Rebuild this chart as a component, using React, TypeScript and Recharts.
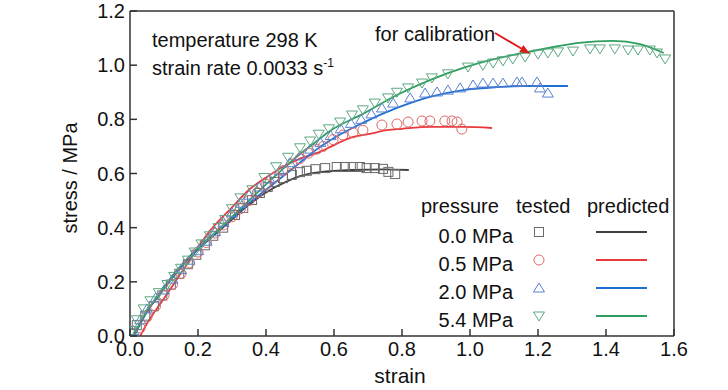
import React from 'react'
import { ComposedChart, Line, Scatter, XAxis, YAxis, ReferenceLine } from 'recharts'

// strain / stress pairs
const tested00: [number, number][] = [
  [0.0, 0.01], [0.02, 0.04], [0.045, 0.075], [0.07, 0.11], [0.095, 0.15], [0.12, 0.19],
  [0.145, 0.23], [0.17, 0.265], [0.195, 0.3], [0.22, 0.335], [0.245, 0.37], [0.274, 0.4],
  [0.309, 0.447], [0.333, 0.473], [0.359, 0.502], [0.382, 0.528], [0.405, 0.55], [0.426, 0.569],
  [0.45, 0.583], [0.476, 0.595], [0.5, 0.605], [0.52, 0.61], [0.545, 0.616], [0.574, 0.62],
  [0.608, 0.624], [0.632, 0.624], [0.655, 0.624], [0.676, 0.624], [0.696, 0.62], [0.72, 0.62],
  [0.744, 0.617], [0.76, 0.606], [0.78, 0.598],
]
const tested05: [number, number][] = [
  [0.03, 0.03], [0.05, 0.07], [0.075, 0.11], [0.1, 0.15], [0.125, 0.19], [0.15, 0.23],
  [0.175, 0.27], [0.2, 0.31], [0.225, 0.345], [0.25, 0.38], [0.275, 0.41], [0.3, 0.44],
  [0.325, 0.47], [0.35, 0.5], [0.375, 0.53], [0.4, 0.56], [0.425, 0.585], [0.45, 0.61],
  [0.475, 0.635], [0.5, 0.655], [0.525, 0.675], [0.55, 0.69], [0.568, 0.7], [0.597, 0.725],
  [0.626, 0.742], [0.656, 0.75], [0.685, 0.76], [0.741, 0.779], [0.785, 0.783], [0.818, 0.79],
  [0.859, 0.794], [0.882, 0.794], [0.926, 0.794], [0.947, 0.794], [0.962, 0.79], [0.976, 0.764],
]
const tested20: [number, number][] = [
  [0.01, 0.02], [0.03, 0.06], [0.05, 0.1], [0.075, 0.14], [0.1, 0.17], [0.125, 0.21],
  [0.15, 0.245], [0.175, 0.28], [0.2, 0.315], [0.225, 0.35], [0.25, 0.385], [0.275, 0.42],
  [0.3, 0.455], [0.325, 0.49], [0.35, 0.52], [0.38, 0.55], [0.41, 0.58], [0.44, 0.61],
  [0.47, 0.64], [0.5, 0.665], [0.53, 0.69], [0.56, 0.715], [0.59, 0.74], [0.62, 0.765],
  [0.65, 0.785], [0.68, 0.8], [0.71, 0.82], [0.741, 0.842], [0.774, 0.86], [0.824, 0.879],
  [0.868, 0.897], [0.903, 0.901], [0.935, 0.908], [0.971, 0.916], [1.009, 0.927], [1.038, 0.934],
  [1.068, 0.934], [1.097, 0.934], [1.138, 0.938], [1.153, 0.938], [1.197, 0.938], [1.206, 0.916],
  [1.229, 0.897],
]
const tested54: [number, number][] = [
  [0.005, 0.02], [0.02, 0.06], [0.04, 0.1], [0.06, 0.13], [0.085, 0.16], [0.11, 0.19],
  [0.13, 0.22], [0.15, 0.25], [0.17, 0.28], [0.19, 0.31], [0.21, 0.34], [0.235, 0.37],
  [0.26, 0.4], [0.28, 0.43], [0.3, 0.47], [0.325, 0.51], [0.36, 0.54], [0.395, 0.585],
  [0.43, 0.625], [0.465, 0.66], [0.5, 0.695], [0.53, 0.72], [0.555, 0.745], [0.585, 0.765],
  [0.618, 0.79], [0.653, 0.816], [0.685, 0.835], [0.72, 0.86], [0.759, 0.879], [0.785, 0.9],
  [0.818, 0.916], [0.859, 0.934], [0.888, 0.953], [0.935, 0.968], [0.994, 0.993], [1.038, 1.0],
  [1.068, 1.008], [1.097, 1.016], [1.126, 1.023], [1.162, 1.03], [1.2, 1.041], [1.229, 1.045],
  [1.259, 1.049], [1.303, 1.052], [1.353, 1.06], [1.382, 1.06], [1.426, 1.06], [1.465, 1.056],
  [1.494, 1.056], [1.529, 1.056], [1.55, 1.045], [1.574, 1.023],
]

const predicted00: [number, number][] = [
  [0.01, 0], [0.05, 0.09], [0.1, 0.175], [0.15, 0.255], [0.2, 0.32], [0.25, 0.375],
  [0.3, 0.43], [0.35, 0.485], [0.4, 0.53], [0.46, 0.57], [0.5, 0.59], [0.559, 0.605],
  [0.656, 0.613], [0.75, 0.615], [0.82, 0.613],
]
const predicted05: [number, number][] = [
  [0.03, 0], [0.044, 0.033], [0.103, 0.144], [0.162, 0.255], [0.23, 0.38], [0.3, 0.475],
  [0.35, 0.54], [0.4, 0.585], [0.45, 0.625], [0.5, 0.655], [0.559, 0.68], [0.6, 0.705],
  [0.656, 0.735], [0.7, 0.745], [0.756, 0.76], [0.8, 0.765], [0.882, 0.772], [0.98, 0.772],
  [1.065, 0.768],
]
const predicted20: [number, number][] = [
  [0.012, 0], [0.05, 0.09], [0.1, 0.178], [0.15, 0.255], [0.2, 0.32], [0.25, 0.378],
  [0.3, 0.435], [0.35, 0.49], [0.4, 0.54], [0.45, 0.59], [0.5, 0.64], [0.55, 0.69],
  [0.588, 0.722], [0.685, 0.787], [0.785, 0.842], [0.882, 0.883], [0.98, 0.908], [1.08, 0.919],
  [1.156, 0.923], [1.288, 0.923],
]
const predicted54: [number, number][] = [
  [0.01, 0], [0.05, 0.092], [0.1, 0.18], [0.15, 0.26], [0.2, 0.325], [0.25, 0.382],
  [0.3, 0.44], [0.35, 0.5], [0.4, 0.56], [0.45, 0.617], [0.5, 0.672], [0.55, 0.72],
  [0.588, 0.757], [0.685, 0.82], [0.785, 0.89], [0.882, 0.945], [0.98, 0.99], [1.08, 1.025],
  [1.156, 1.045], [1.25, 1.068], [1.32, 1.082], [1.42, 1.09], [1.5, 1.078], [1.57, 1.045],
]

const pressures = ['0.0 MPa', '0.5 MPa', '2.0 MPa', '5.4 MPa']
const xTicks = [0, 0.2, 0.4, 0.6, 0.8, 1.0, 1.2, 1.4, 1.6]
const yTicks = [0, 0.2, 0.4, 0.6, 0.8, 1.0, 1.2]

const lineColors = ['#404040', '#e8393c', '#1f6ed4', '#2f9e60']
const markColors = ['#6a6a6a', '#e06868', '#5a82d0', '#5ea882']
const FONT = "'Liberation Sans', Arial, sans-serif"

const toPts = (a: [number, number][]) => a.map(([x, y]) => ({ x, y }))

const Marker = ({ kind, cx, cy, color }: { kind: number; cx: number; cy: number; color: string }) => {
  const p = { fill: 'none', stroke: color, strokeWidth: 1 }
  if (kind === 0) return <rect x={cx - 4.5} y={cy - 4.5} width={9} height={9} {...p} />
  if (kind === 1) return <circle cx={cx} cy={cy} r={5} {...p} />
  if (kind === 2) return <path d={`M${cx},${cy - 5} L${cx + 5.5},${cy + 4} L${cx - 5.5},${cy + 4} Z`} {...p} />
  return <path d={`M${cx},${cy + 5} L${cx + 5.5},${cy - 4} L${cx - 5.5},${cy - 4} Z`} {...p} />
}

const XTick = (props: any) => {
  const { x, y, payload } = props
  return (
    <g>
      <line x1={x} x2={x} y1={y} y2={y - 7} stroke="#333" strokeWidth={1.5} />
      <text x={x} y={y + 20} textAnchor="middle" fontFamily={FONT} fontSize={20} fill="#111">
        {payload.value.toFixed(1)}
      </text>
    </g>
  )
}

const YTick = (props: any) => {
  const { x, y, payload } = props
  return (
    <g>
      <line x1={x} x2={x + 7} y1={y} y2={y} stroke="#333" strokeWidth={1.5} />
      <text x={x - 5} y={y + 7} textAnchor="end" fontFamily={FONT} fontSize={20} fill="#111">
        {payload.value.toFixed(1)}
      </text>
    </g>
  )
}

const tested = [tested00, tested05, tested20, tested54]
const predicted = [predicted00, predicted05, predicted20, predicted54]

export default function App() {
  const txt = { fontFamily: FONT, fontSize: 20, fill: '#111' }
  return (
    <div style={{ position: 'absolute', left: 0, top: 0, width: 728, height: 390, background: '#fff' }}>
      <ComposedChart width={728} height={390} margin={{ top: 11, right: 54, bottom: 0, left: 0 }}>
        <XAxis
          type="number"
          dataKey="x"
          domain={[0, 1.6]}
          ticks={xTicks}
          interval={0}
          height={54}
          tickSize={0}
          tickMargin={0}
          tickLine={false}
          axisLine={{ stroke: '#333', strokeWidth: 1.5 }}
          tick={<XTick />}
          allowDataOverflow
        />
        <YAxis
          type="number"
          dataKey="y"
          domain={[0, 1.2]}
          ticks={yTicks}
          interval={0}
          width={130}
          tickSize={0}
          tickMargin={0}
          tickLine={false}
          axisLine={{ stroke: '#333', strokeWidth: 1.5 }}
          tick={<YTick />}
          allowDataOverflow
        />
        <ReferenceLine y={1.2} stroke="#333" strokeWidth={1.5} />
        <ReferenceLine x={1.6} stroke="#333" strokeWidth={1.5} />
        {tested.map((s, i) => (
          <Scatter
            key={'t' + i}
            data={toPts(s)}
            isAnimationActive={false}
            shape={(p: any) => <Marker kind={i} cx={p.cx} cy={p.cy} color={markColors[i]} />}
          />
        ))}
        {predicted.map((s, i) => (
          <Line
            key={'p' + i}
            data={toPts(s)}
            dataKey="y"
            type="monotone"
            stroke={lineColors[i]}
            strokeWidth={1.8}
            dot={false}
            activeDot={false}
            isAnimationActive={false}
          />
        ))}
      </ComposedChart>
      <svg width={728} height={390} style={{ position: 'absolute', left: 0, top: 0, pointerEvents: 'none' }}>
        <defs>
          <marker id="arr" markerWidth="10" markerHeight="8" refX="9" refY="4" orient="auto" markerUnits="userSpaceOnUse">
            <path d="M0,0 L10,4 L0,8 Z" fill="#e01b1b" />
          </marker>
        </defs>
        <text x={72} y={178} {...txt} textAnchor="middle" dominantBaseline="middle" transform="rotate(-90 72 178)">
          stress / MPa
        </text>
        <text x={400} y={383} {...txt} fontSize={21} textAnchor="middle">strain</text>
        <text x={152} y={47} {...txt}>temperature 298 K</text>
        <text x={152} y={75} {...txt}>
          strain rate 0.0033 s<tspan fontSize={12} dy={-8}>-1</tspan>
        </text>
        <text x={375} y={41} {...txt}>for calibration</text>
        <line x1={495} y1={33} x2={529} y2={53} stroke="#e01b1b" strokeWidth={2} markerEnd="url(#arr)" />
        <text x={421} y={213} {...txt}>pressure</text>
        <text x={516} y={213} {...txt}>tested</text>
        <text x={587} y={213} {...txt}>predicted</text>
        {pressures.map((p, i) => (
          <g key={p}>
            <text x={513} y={243 + i * 28} {...txt} textAnchor="end">{p}</text>
            <Marker kind={i} cx={539} cy={232 + i * 28} color={markColors[i]} />
            <line x1={596} x2={647} y1={232 + i * 28} y2={232 + i * 28} stroke={lineColors[i]} strokeWidth={1.8} />
          </g>
        ))}
      </svg>
    </div>
  )
}
